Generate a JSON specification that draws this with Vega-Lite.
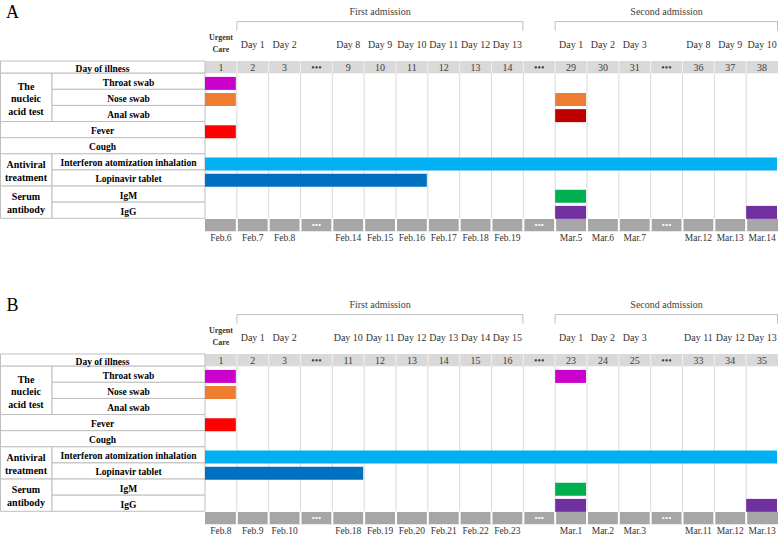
{
"$schema": "https://vega.github.io/schema/vega-lite/v6.json",
"padding": 0,
"autosize": {"type": "pad"},
"background": "white",
"config": {"view": {"stroke": null}, "font": "Liberation Serif"},
"data": {"values": [
{"kind":"letter","panels":["A"],"text":"A"},
{"kind":"letter","panels":["B"],"text":"B"},
{"kind":"adm","panels":["A","B"],"text":"First admission","c0":1,"c1":10,"mid":5.5},
{"kind":"adm","panels":["A","B"],"text":"Second admission","c0":11,"c1":18,"mid":14.5},
{"kind":"cell","panels":["A","B"],"c0":-6.424,"c1":0,"r0":-0.757,"r1":0},
{"kind":"cell","panels":["A","B"],"c0":-6.424,"c1":-4.806,"r0":0,"r1":3},
{"kind":"cell","panels":["A","B"],"c0":-4.806,"c1":0,"r0":0,"r1":1},
{"kind":"cell","panels":["A","B"],"c0":-4.806,"c1":0,"r0":1,"r1":2},
{"kind":"cell","panels":["A","B"],"c0":-4.806,"c1":0,"r0":2,"r1":3},
{"kind":"cell","panels":["A","B"],"c0":-6.424,"c1":0,"r0":3,"r1":4},
{"kind":"cell","panels":["A","B"],"c0":-6.424,"c1":0,"r0":4,"r1":5},
{"kind":"cell","panels":["A","B"],"c0":-6.424,"c1":-4.806,"r0":5,"r1":7},
{"kind":"cell","panels":["A","B"],"c0":-4.806,"c1":0,"r0":5,"r1":6},
{"kind":"cell","panels":["A","B"],"c0":-4.806,"c1":0,"r0":6,"r1":7},
{"kind":"cell","panels":["A","B"],"c0":-6.424,"c1":-4.806,"r0":7,"r1":9},
{"kind":"cell","panels":["A","B"],"c0":-4.806,"c1":0,"r0":7,"r1":8},
{"kind":"cell","panels":["A","B"],"c0":-4.806,"c1":0,"r0":8,"r1":9},
{"kind":"label","panels":["A","B"],"span":"full","text":"Day of illness","y":-0.378},
{"kind":"label","panels":["A","B"],"span":"full","text":"Fever","y":3.5},
{"kind":"label","panels":["A","B"],"span":"full","text":"Cough","y":4.5},
{"kind":"label","panels":["A","B"],"span":"item","text":"Throat swab","y":0.5},
{"kind":"label","panels":["A","B"],"span":"item","text":"Nose swab","y":1.5},
{"kind":"label","panels":["A","B"],"span":"item","text":"Anal swab","y":2.5},
{"kind":"label","panels":["A","B"],"span":"item","text":"Interferon atomization inhalation","y":5.5},
{"kind":"label","panels":["A","B"],"span":"item","text":"Lopinavir tablet","y":6.5},
{"kind":"label","panels":["A","B"],"span":"item","text":"IgM","y":7.5},
{"kind":"label","panels":["A","B"],"span":"item","text":"IgG","y":8.5},
{"kind":"label","panels":["A","B"],"span":"group","text":"The\nnucleic\nacid test","y":1.5},
{"kind":"label","panels":["A","B"],"span":"group","text":"Antiviral\ntreatment","y":6},
{"kind":"label","panels":["A","B"],"span":"group","text":"Serum\nantibody","y":8},
{"kind":"bar","panels":["A"],"item":"Throat swab","row":0,"from":0,"to":1},
{"kind":"bar","panels":["A"],"item":"Nose swab","row":1,"from":0,"to":1},
{"kind":"bar","panels":["A"],"item":"Nose swab","row":1,"from":11,"to":12},
{"kind":"bar","panels":["A"],"item":"Anal swab","row":2,"from":11,"to":12},
{"kind":"bar","panels":["A"],"item":"Fever","row":3,"from":0,"to":1},
{"kind":"bar","panels":["A"],"item":"Interferon atomization inhalation","row":5,"from":0,"to":18},
{"kind":"bar","panels":["A"],"item":"Lopinavir tablet","row":6,"from":0,"to":7},
{"kind":"bar","panels":["A"],"item":"IgM","row":7,"from":11,"to":12},
{"kind":"bar","panels":["A"],"item":"IgG","row":8,"from":11,"to":12},
{"kind":"bar","panels":["A"],"item":"IgG","row":8,"from":17,"to":18},
{"kind":"bar","panels":["B"],"item":"Throat swab","row":0,"from":0,"to":1},
{"kind":"bar","panels":["B"],"item":"Throat swab","row":0,"from":11,"to":12},
{"kind":"bar","panels":["B"],"item":"Nose swab","row":1,"from":0,"to":1},
{"kind":"bar","panels":["B"],"item":"Fever","row":3,"from":0,"to":1},
{"kind":"bar","panels":["B"],"item":"Interferon atomization inhalation","row":5,"from":0,"to":18},
{"kind":"bar","panels":["B"],"item":"Lopinavir tablet","row":6,"from":0,"to":5},
{"kind":"bar","panels":["B"],"item":"IgM","row":7,"from":11,"to":12},
{"kind":"bar","panels":["B"],"item":"IgG","row":8,"from":11,"to":12},
{"kind":"bar","panels":["B"],"item":"IgG","row":8,"from":17,"to":18},
{"kind":"col","panels":["A"],"col":0,"ill":"1","day":"Urgent\nCare","date":"Feb.6"},
{"kind":"col","panels":["A"],"col":1,"ill":"2","day":"Day 1","date":"Feb.7"},
{"kind":"col","panels":["A"],"col":2,"ill":"3","day":"Day 2","date":"Feb.8"},
{"kind":"col","panels":["A"],"col":3,"ill":"•••","day":"","date":""},
{"kind":"col","panels":["A"],"col":4,"ill":"9","day":"Day 8","date":"Feb.14"},
{"kind":"col","panels":["A"],"col":5,"ill":"10","day":"Day 9","date":"Feb.15"},
{"kind":"col","panels":["A"],"col":6,"ill":"11","day":"Day 10","date":"Feb.16"},
{"kind":"col","panels":["A"],"col":7,"ill":"12","day":"Day 11","date":"Feb.17"},
{"kind":"col","panels":["A"],"col":8,"ill":"13","day":"Day 12","date":"Feb.18"},
{"kind":"col","panels":["A"],"col":9,"ill":"14","day":"Day 13","date":"Feb.19"},
{"kind":"col","panels":["A"],"col":10,"ill":"•••","day":"","date":""},
{"kind":"col","panels":["A"],"col":11,"ill":"29","day":"Day 1","date":"Mar.5"},
{"kind":"col","panels":["A"],"col":12,"ill":"30","day":"Day 2","date":"Mar.6"},
{"kind":"col","panels":["A"],"col":13,"ill":"31","day":"Day 3","date":"Mar.7"},
{"kind":"col","panels":["A"],"col":14,"ill":"•••","day":"","date":""},
{"kind":"col","panels":["A"],"col":15,"ill":"36","day":"Day 8","date":"Mar.12"},
{"kind":"col","panels":["A"],"col":16,"ill":"37","day":"Day 9","date":"Mar.13"},
{"kind":"col","panels":["A"],"col":17,"ill":"38","day":"Day 10","date":"Mar.14"},
{"kind":"col","panels":["B"],"col":0,"ill":"1","day":"Urgent\nCare","date":"Feb.8"},
{"kind":"col","panels":["B"],"col":1,"ill":"2","day":"Day 1","date":"Feb.9"},
{"kind":"col","panels":["B"],"col":2,"ill":"3","day":"Day 2","date":"Feb.10"},
{"kind":"col","panels":["B"],"col":3,"ill":"•••","day":"","date":""},
{"kind":"col","panels":["B"],"col":4,"ill":"11","day":"Day 10","date":"Feb.18"},
{"kind":"col","panels":["B"],"col":5,"ill":"12","day":"Day 11","date":"Feb.19"},
{"kind":"col","panels":["B"],"col":6,"ill":"13","day":"Day 12","date":"Feb.20"},
{"kind":"col","panels":["B"],"col":7,"ill":"14","day":"Day 13","date":"Feb.21"},
{"kind":"col","panels":["B"],"col":8,"ill":"15","day":"Day 14","date":"Feb.22"},
{"kind":"col","panels":["B"],"col":9,"ill":"16","day":"Day 15","date":"Feb.23"},
{"kind":"col","panels":["B"],"col":10,"ill":"•••","day":"","date":""},
{"kind":"col","panels":["B"],"col":11,"ill":"23","day":"Day 1","date":"Mar.1"},
{"kind":"col","panels":["B"],"col":12,"ill":"24","day":"Day 2","date":"Mar.2"},
{"kind":"col","panels":["B"],"col":13,"ill":"25","day":"Day 3","date":"Mar.3"},
{"kind":"col","panels":["B"],"col":14,"ill":"•••","day":"","date":""},
{"kind":"col","panels":["B"],"col":15,"ill":"33","day":"Day 11","date":"Mar.11"},
{"kind":"col","panels":["B"],"col":16,"ill":"34","day":"Day 12","date":"Mar.12"},
{"kind":"col","panels":["B"],"col":17,"ill":"35","day":"Day 13","date":"Mar.13"}
]},
"transform": [{"flatten": ["panels"], "as": ["panel"]}],
"facet": {"row": {"field": "panel", "type": "nominal", "header": null}},
"spacing": 46,
"spec": {
"width": 778,
"height": 247,
"layer": [
{"transform":[{"filter":"datum.kind === 'letter'"}],
 "mark":{"type":"rect","fill":"#d9d9d9"},
 "encoding":{"x":{"datum":0,"type":"quantitative","scale":{"domain":[-6.44,18],"nice":false,"zero":false},"axis":null},"x2":{"datum":18},
 "y":{"datum":-0.757,"type":"quantitative","scale":{"domain":[-4.23,10.47],"reverse":true,"nice":false,"zero":false},"axis":null},"y2":{"datum":0}}},
{"transform":[{"filter":"datum.kind === 'letter'"}],
 "mark":{"type":"rect","fill":"#a6a6a6"},
 "encoding":{"x":{"datum":0,"type":"quantitative","scale":{"domain":[-6.44,18],"nice":false,"zero":false},"axis":null},"x2":{"datum":18},
 "y":{"datum":9.04,"type":"quantitative","scale":{"domain":[-4.23,10.47],"reverse":true,"nice":false,"zero":false},"axis":null},"y2":{"datum":9.8}}},
{"transform":[{"filter":"datum.kind === 'col' && datum.col > 0"}],
 "mark":{"type":"rule","stroke":"#d9d9d9","strokeWidth":1},
 "encoding":{"x":{"field":"col","type":"quantitative","scale":{"domain":[-6.44,18],"nice":false,"zero":false},"axis":null},
 "y":{"datum":0,"type":"quantitative","scale":{"domain":[-4.23,10.47],"reverse":true,"nice":false,"zero":false},"axis":null},"y2":{"datum":9}}},
{"transform":[{"filter":"datum.kind === 'col' && datum.col > 0"}],
 "mark":{"type":"rule","stroke":"#f0f0f0","strokeWidth":1},
 "encoding":{"x":{"field":"col","type":"quantitative","scale":{"domain":[-6.44,18],"nice":false,"zero":false},"axis":null},
 "y":{"datum":-0.757,"type":"quantitative","scale":{"domain":[-4.23,10.47],"reverse":true,"nice":false,"zero":false},"axis":null},"y2":{"datum":0}}},
{"transform":[{"filter":"datum.kind === 'col' && datum.col > 0"}],
 "mark":{"type":"rule","stroke":"#ffffff","strokeWidth":2},
 "encoding":{"x":{"field":"col","type":"quantitative","scale":{"domain":[-6.44,18],"nice":false,"zero":false},"axis":null},
 "y":{"datum":9.04,"type":"quantitative","scale":{"domain":[-4.23,10.47],"reverse":true,"nice":false,"zero":false},"axis":null},"y2":{"datum":9.8}}},
{"transform":[{"filter":"datum.kind === 'cell'"}],
 "mark":{"type":"rect","fill":"#ffffff","stroke":"#bfbfbf","strokeWidth":1},
 "encoding":{"x":{"field":"c0","type":"quantitative","scale":{"domain":[-6.44,18],"nice":false,"zero":false},"axis":null},"x2":{"field":"c1"},
 "y":{"field":"r0","type":"quantitative","scale":{"domain":[-4.23,10.47],"reverse":true,"nice":false,"zero":false},"axis":null},"y2":{"field":"r1"}}},
{"transform":[{"filter":"datum.kind === 'bar'"}],
 "mark":{"type":"bar","orient":"horizontal","height":13,"yOffset":10.2,"x2Offset":-1},
 "encoding":{"x":{"field":"from","type":"quantitative","scale":{"domain":[-6.44,18],"nice":false,"zero":false},"axis":null},"x2":{"field":"to"},
 "y":{"field":"row","type":"quantitative","scale":{"domain":[-4.23,10.47],"reverse":true,"nice":false,"zero":false},"axis":null},
 "color":{"field":"item","type":"nominal","legend":null,"scale":{"domain":["Throat swab","Nose swab","Anal swab","Fever","Interferon atomization inhalation","Lopinavir tablet","IgM","IgG"],"range":["#cc00cc","#ed7d31","#c00000","#ff0000","#00b0f0","#0070c0","#00b050","#7030a0"]}}}},
{"transform":[{"filter":"datum.kind === 'label' && datum.span === 'full'"}],
 "mark":{"type":"text","font":"Liberation Serif","fontWeight":"bold","fontSize":9.5,"align":"center","baseline":"middle","dy":1.5,"fill":"#000000"},
 "encoding":{"x":{"datum":-3.22,"type":"quantitative","scale":{"domain":[-6.44,18],"nice":false,"zero":false},"axis":null},
 "y":{"field":"y","type":"quantitative","scale":{"domain":[-4.23,10.47],"reverse":true,"nice":false,"zero":false},"axis":null},"text":{"field":"text"}}},
{"transform":[{"filter":"datum.kind === 'label' && datum.span === 'item'"}],
 "mark":{"type":"text","font":"Liberation Serif","fontWeight":"bold","fontSize":9.5,"align":"center","baseline":"middle","dy":1.5,"fill":"#000000"},
 "encoding":{"x":{"datum":-2.403,"type":"quantitative","scale":{"domain":[-6.44,18],"nice":false,"zero":false},"axis":null},
 "y":{"field":"y","type":"quantitative","scale":{"domain":[-4.23,10.47],"reverse":true,"nice":false,"zero":false},"axis":null},"text":{"field":"text"}}},
{"transform":[{"filter":"datum.kind === 'label' && datum.span === 'group' && indexof(datum.text, 'nucleic') >= 0"}],
 "mark":{"type":"text","font":"Liberation Serif","fontWeight":"bold","fontSize":10,"align":"center","baseline":"middle","dy":-10.5,"lineBreak":"\n","lineHeight":12.5,"fill":"#000000"},
 "encoding":{"x":{"datum":-5.623,"type":"quantitative","scale":{"domain":[-6.44,18],"nice":false,"zero":false},"axis":null},
 "y":{"field":"y","type":"quantitative","scale":{"domain":[-4.23,10.47],"reverse":true,"nice":false,"zero":false},"axis":null},"text":{"field":"text"}}},
{"transform":[{"filter":"datum.kind === 'label' && datum.span === 'group' && indexof(datum.text, 'nucleic') < 0"}],
 "mark":{"type":"text","font":"Liberation Serif","fontWeight":"bold","fontSize":10,"align":"center","baseline":"middle","dy":-4.75,"lineBreak":"\n","lineHeight":12.5,"fill":"#000000"},
 "encoding":{"x":{"datum":-5.623,"type":"quantitative","scale":{"domain":[-6.44,18],"nice":false,"zero":false},"axis":null},
 "y":{"field":"y","type":"quantitative","scale":{"domain":[-4.23,10.47],"reverse":true,"nice":false,"zero":false},"axis":null},"text":{"field":"text"}}},
{"transform":[{"filter":"datum.kind === 'letter'"}],
 "mark":{"type":"text","font":"Liberation Serif","fontSize":18,"align":"center","baseline":"middle","fill":"#000000"},
 "encoding":{"x":{"datum":-6.05,"type":"quantitative","scale":{"domain":[-6.44,18],"nice":false,"zero":false},"axis":null},
 "y":{"datum":-3.72,"type":"quantitative","scale":{"domain":[-4.23,10.47],"reverse":true,"nice":false,"zero":false},"axis":null},"text":{"field":"text"}}},
{"transform":[{"filter":"datum.kind === 'adm'"}],
 "mark":{"type":"text","font":"Liberation Serif","fontSize":10,"align":"center","baseline":"middle","fill":"#404040"},
 "encoding":{"x":{"field":"mid","type":"quantitative","scale":{"domain":[-6.44,18],"nice":false,"zero":false},"axis":null},
 "y":{"datum":-3.81,"type":"quantitative","scale":{"domain":[-4.23,10.47],"reverse":true,"nice":false,"zero":false},"axis":null},"text":{"field":"text"}}},
{"transform":[{"filter":"datum.kind === 'adm'"}],
 "mark":{"type":"rule","stroke":"#bfbfbf","strokeWidth":1},
 "encoding":{"x":{"field":"c0","type":"quantitative","scale":{"domain":[-6.44,18],"nice":false,"zero":false},"axis":null},"x2":{"field":"c1"},
 "y":{"datum":-3.2,"type":"quantitative","scale":{"domain":[-4.23,10.47],"reverse":true,"nice":false,"zero":false},"axis":null}}},
{"transform":[{"filter":"datum.kind === 'adm'"}],
 "mark":{"type":"rule","stroke":"#bfbfbf","strokeWidth":1},
 "encoding":{"x":{"field":"c0","type":"quantitative","scale":{"domain":[-6.44,18],"nice":false,"zero":false},"axis":null},
 "y":{"datum":-3.2,"type":"quantitative","scale":{"domain":[-4.23,10.47],"reverse":true,"nice":false,"zero":false},"axis":null},"y2":{"datum":-2.64}}},
{"transform":[{"filter":"datum.kind === 'adm'"}],
 "mark":{"type":"rule","stroke":"#bfbfbf","strokeWidth":1,"xOffset":-0.5},
 "encoding":{"x":{"field":"c1","type":"quantitative","scale":{"domain":[-6.44,18],"nice":false,"zero":false},"axis":null},
 "y":{"datum":-3.2,"type":"quantitative","scale":{"domain":[-4.23,10.47],"reverse":true,"nice":false,"zero":false},"axis":null},"y2":{"datum":-2.64}}},
{"transform":[{"filter":"datum.kind === 'col' && datum.col > 0"}],
 "mark":{"type":"text","font":"Liberation Serif","fontSize":10,"align":"center","baseline":"middle","xOffset":15.9,"fill":"#333333"},
 "encoding":{"x":{"field":"col","type":"quantitative","scale":{"domain":[-6.44,18],"nice":false,"zero":false},"axis":null},
 "y":{"datum":-1.74,"type":"quantitative","scale":{"domain":[-4.23,10.47],"reverse":true,"nice":false,"zero":false},"axis":null},"text":{"field":"day"}}},
{"transform":[{"filter":"datum.kind === 'col' && datum.col === 0"}],
 "mark":{"type":"text","font":"Liberation Serif","fontWeight":"bold","fontSize":8,"align":"center","baseline":"middle","xOffset":15.9,"dy":-5.85,"lineBreak":"\n","lineHeight":11.7,"fill":"#333333"},
 "encoding":{"x":{"field":"col","type":"quantitative","scale":{"domain":[-6.44,18],"nice":false,"zero":false},"axis":null},
 "y":{"datum":-1.8,"type":"quantitative","scale":{"domain":[-4.23,10.47],"reverse":true,"nice":false,"zero":false},"axis":null},"text":{"field":"day"}}},
{"transform":[{"filter":"datum.kind === 'col'"}],
 "mark":{"type":"text","font":"Liberation Serif","fontSize":10,"align":"center","baseline":"middle","xOffset":15.9,"dy":0.5,"fill":"#404040"},
 "encoding":{"x":{"field":"col","type":"quantitative","scale":{"domain":[-6.44,18],"nice":false,"zero":false},"axis":null},
 "y":{"datum":-0.378,"type":"quantitative","scale":{"domain":[-4.23,10.47],"reverse":true,"nice":false,"zero":false},"axis":null},"text":{"field":"ill"}}},
{"transform":[{"filter":"datum.kind === 'col'"}],
 "mark":{"type":"text","font":"Liberation Serif","fontSize":9.5,"align":"center","baseline":"middle","xOffset":15.9,"fill":"#333333"},
 "encoding":{"x":{"field":"col","type":"quantitative","scale":{"domain":[-6.44,18],"nice":false,"zero":false},"axis":null},
 "y":{"datum":10.22,"type":"quantitative","scale":{"domain":[-4.23,10.47],"reverse":true,"nice":false,"zero":false},"axis":null},"text":{"field":"date"}}},
{"transform":[{"filter":"datum.kind === 'col' && datum.date === ''"}],
 "mark":{"type":"text","font":"Liberation Serif","fontSize":9,"align":"center","baseline":"middle","xOffset":15.9,"fill":"#ffffff"},
 "encoding":{"x":{"field":"col","type":"quantitative","scale":{"domain":[-6.44,18],"nice":false,"zero":false},"axis":null},
 "y":{"datum":9.42,"type":"quantitative","scale":{"domain":[-4.23,10.47],"reverse":true,"nice":false,"zero":false},"axis":null},"text":{"value":"•••"}}}
]
}
}
